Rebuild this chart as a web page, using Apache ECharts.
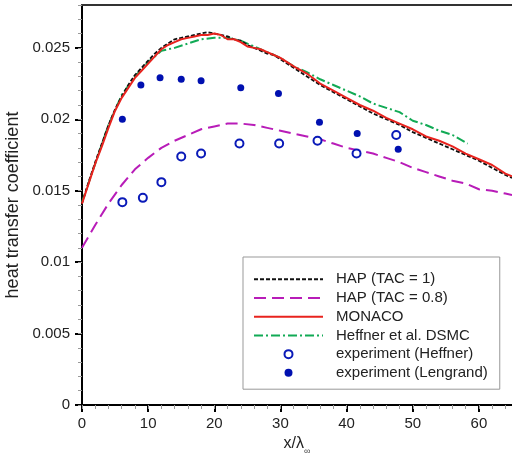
<!DOCTYPE html>
<html>
<head>
<meta charset="utf-8">
<script src="https://cdn.jsdelivr.net/npm/echarts@6/dist/echarts.min.js"></script>
<style>
html,body{margin:0;padding:0;background:#fff;}
#c{width:512px;height:458px;}
</style>
</head>
<body>
<div id="c"></div>
<script>
// ---- data ----
const xHapTac1 = [0,1,2,3,4,5,6,7,8,9,10,11,12,13,14,15,16,17,18,19,20,21,22,23,24,25,26,27,28,29,30,32,34,36,38,40,42,44,46,48,50,52,54,56,58,60,62,64,65];
const yHapTac1 = [0.0141,0.0156,0.0170,0.0183,0.0196,0.0207,0.0216,0.0224,0.0231,0.0236,0.0241,0.0246,0.0250,0.0253,0.0256,0.0257,0.0258,0.0259,0.0260,0.0261,0.0260,0.0259,0.0258,0.0256,0.0255,0.0252,0.0250,0.0248,0.0246,0.0245,0.0242,0.0236,0.0230,0.0224,0.0219,0.0214,0.0209,0.0204,0.0200,0.0196,0.0191,0.0187,0.0183,0.0179,0.0175,0.0171,0.0166,0.0161,0.0159];

const xHapTac08 = [0,2,4,6,8,10,12,14,16,18,20,22,24,26,28,30,32,34,36,38,40,42,44,46,48,50,52,54,56,58,60,62,64,65];
const yHapTac08 = [0.0110,0.0126,0.0141,0.0154,0.0165,0.0173,0.0180,0.0185,0.0189,0.0193,0.0195,0.0197,0.0197,0.0196,0.0194,0.0192,0.0190,0.0188,0.0186,0.0183,0.0180,0.0178,0.0176,0.0173,0.0170,0.0166,0.0163,0.0160,0.0157,0.0155,0.0151,0.0150,0.0148,0.0147];

const xMonaco = [0,1,2,3,4,5,6,7,8,9,10,11,12,13,14,15,16,17,18,19,20,21,22,23,24,25,26,27,28,29,30,32,34,36,38,40,42,44,46,48,50,52,54,56,58,60,62,64,65];
const yMonaco = [0.0141,0.0155,0.0169,0.0181,0.0194,0.0206,0.0215,0.0222,0.0229,0.0234,0.0239,0.0244,0.0249,0.0252,0.0254,0.0256,0.0257,0.0258,0.0259,0.0259,0.0260,0.0259,0.0256,0.0256,0.0254,0.0251,0.0250,0.0249,0.0247,0.0245,0.0243,0.0237,0.0232,0.0225,0.0220,0.0215,0.0210,0.0206,0.0201,0.0197,0.0193,0.0188,0.0185,0.0181,0.0176,0.0172,0.0168,0.0162,0.0160];

const xDsmc = [0,2,4,6,8,10,12,14,16,18,20,22,24,26,28,30,32,34,36,38,40,42,44,46,48,50,52,54,56,58.3];
const yDsmc = [0.0142,0.0169,0.0196,0.0217,0.0230,0.0240,0.0248,0.0250,0.0253,0.0256,0.0257,0.0257,0.0255,0.0251,0.0247,0.0243,0.0237,0.0233,0.0228,0.0224,0.0220,0.0216,0.0211,0.0208,0.0205,0.0199,0.0196,0.0192,0.0189,0.0183];

const xExpHeffner = [6.1,9.2,12.0,15.0,18.0,23.8,29.8,35.6,41.5,47.5];
const yExpHeffner = [0.0142,0.0145,0.0156,0.0174,0.0176,0.0183,0.0183,0.0185,0.0176,0.0189];

const xExpLengrand = [6.1,8.9,11.8,15.0,18.0,24.0,29.7,35.9,41.6,47.8];
const yExpLengrand = [0.0200,0.0224,0.0229,0.0228,0.0227,0.0222,0.0218,0.0198,0.0190,0.0179];

const yMajorTicks = [0,0.005,0.01,0.015,0.02,0.025];
const xMajorTicks = [0,10,20,30,40,50,60];

const zip = (xs, ys) => xs.map((x, i) => [x, ys[i]]);

const FONT = 'Liberation Sans, Arial, sans-serif';
const chart = echarts.init(document.getElementById('c'), null, {renderer: 'canvas'});
const hideSym = {color: 'rgba(0,0,0,0)', opacity: 0, borderWidth: 0};

chart.setOption({
  backgroundColor: '#ffffff',
  animation: false,
  textStyle: {fontFamily: FONT},
  grid: {left: 82, right: 0, top: 5, bottom: 53, containLabel: false, outerBoundsMode: 'none'},
  xAxis: [
    {
      type: 'value', min: 0, max: 65, interval: 10, position: 'bottom',
      axisLine: {show: true, lineStyle: {color: '#000', width: 2}},
      axisTick: {show: true, length: 7, lineStyle: {color: '#000', width: 2}, customValues: xMajorTicks},
      axisLabel: {show: true, margin: 11, fontSize: 15, color: '#222', fontFamily: FONT, customValues: xMajorTicks},
      splitLine: {show: false},
      name: '{a|x/λ}{s|∞}', nameLocation: 'middle', nameGap: 31,
      nameTextStyle: {
        fontFamily: FONT, color: '#222',
        rich: {
          a: {fontSize: 16, lineHeight: 20, verticalAlign: 'top', fontFamily: FONT, color: '#222'},
          s: {fontSize: 9, lineHeight: 20, verticalAlign: 'bottom', fontFamily: FONT, color: '#444'}
        }
      }
    },
    {
      type: 'value', min: 0, max: 65, interval: 2, position: 'bottom', gridIndex: 0,
      axisLine: {show: false},
      axisTick: {show: true, length: 4, lineStyle: {color: '#999', width: 1}},
      axisLabel: {show: false}, splitLine: {show: false}
    },
    {
      type: 'value', min: 0, max: 65, position: 'top', gridIndex: 0,
      axisLine: {show: true, lineStyle: {color: '#333', width: 2}},
      axisTick: {show: false}, axisLabel: {show: false}, splitLine: {show: false}
    }
  ],
  yAxis: [
    {
      type: 'value', min: 0, max: 0.028, interval: 0.005, position: 'left',
      axisLine: {show: true, lineStyle: {color: '#000', width: 2}},
      axisTick: {show: true, length: 7, lineStyle: {color: '#000', width: 2}, customValues: yMajorTicks},
      axisLabel: {show: true, margin: 12, fontSize: 15, color: '#222', fontFamily: FONT, customValues: yMajorTicks},
      splitLine: {show: false},
      name: 'heat transfer coefficient', nameLocation: 'middle', nameGap: 55, nameRotate: 90,
      nameTextStyle: {fontSize: 18, color: '#222', fontFamily: FONT}
    },
    {
      type: 'value', min: 0, max: 0.028, interval: 0.001, position: 'left',
      axisLine: {show: false},
      axisTick: {show: true, length: 4, lineStyle: {color: '#999', width: 1}},
      axisLabel: {show: false}, splitLine: {show: false}
    }
  ],
  legend: {
    orient: 'vertical', left: 243, top: 257,
    backgroundColor: '#fff',
    borderColor: '#999', borderWidth: 1, borderRadius: 0,
    padding: [13, 12, 7, 10],
    itemWidth: 69, itemHeight: 8, itemGap: 0,
    textStyle: {fontSize: 15, lineHeight: 18.7, color: '#222', fontFamily: FONT, padding: [0, 0, 0, 8]},
    data: [
      {name: 'HAP (TAC = 1)', itemStyle: hideSym},
      {name: 'HAP (TAC = 0.8)', itemStyle: hideSym},
      {name: 'MONACO', itemStyle: hideSym},
      {name: 'Heffner et al. DSMC', itemStyle: hideSym},
      {name: 'experiment (Heffner)'},
      {name: 'experiment (Lengrand)'}
    ]
  },
  series: [
    {
      name: 'HAP (TAC = 1)', type: 'line', symbol: 'none',
      data: zip(xHapTac1, yHapTac1), z: 3,
      lineStyle: {color: '#111', width: 1.8, type: [4, 2]},
      itemStyle: {color: '#111'}
    },
    {
      name: 'HAP (TAC = 0.8)', type: 'line', symbol: 'none',
      data: zip(xHapTac08, yHapTac08), z: 2,
      lineStyle: {color: '#b81cb8', width: 2, type: [12, 6]},
      itemStyle: {color: '#b81cb8'}
    },
    {
      name: 'MONACO', type: 'line', symbol: 'none',
      data: zip(xMonaco, yMonaco), z: 4,
      lineStyle: {color: '#e8231e', width: 2},
      itemStyle: {color: '#e8231e'}
    },
    {
      name: 'Heffner et al. DSMC', type: 'line', symbol: 'none',
      data: zip(xDsmc, yDsmc), z: 2,
      lineStyle: {color: '#11aa55', width: 2, type: [9, 3, 2, 3]},
      itemStyle: {color: '#11aa55'}
    },
    {
      name: 'experiment (Heffner)', type: 'scatter', symbol: 'emptyCircle', symbolSize: 8,
      data: zip(xExpHeffner, yExpHeffner), z: 5,
      itemStyle: {color: '#0a1ab8', borderColor: '#0a1ab8', borderWidth: 2, opacity: 1}
    },
    {
      name: 'experiment (Lengrand)', type: 'scatter', symbol: 'circle', symbolSize: 7,
      data: zip(xExpLengrand, yExpLengrand), z: 5,
      itemStyle: {color: '#0010b0', opacity: 1}
    }
  ]
});
</script>
</body>
</html>
